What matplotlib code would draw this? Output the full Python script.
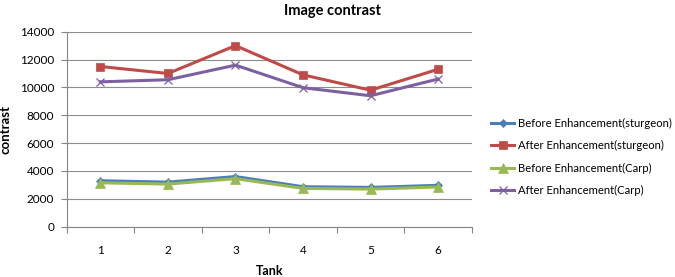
import matplotlib
import numpy as np

matplotlib.use("Agg")
import matplotlib.pyplot as plt  # noqa: E402

plt.rcParams["font.family"] = ["Lato", "DejaVu Sans"]

tanks = ["1", "2", "3", "4", "5", "6"]
before_sturgeon = [3300, 3200, 3600, 2870, 2820, 2970]
after_sturgeon = [11500, 11000, 13000, 10900, 9800, 11300]
before_carp = [3150, 3060, 3450, 2750, 2700, 2850]
after_carp = [10400, 10550, 11600, 9980, 9400, 10600]
y_ticks = [0, 2000, 4000, 6000, 8000, 10000, 12000, 14000]

series = [
    ("Before Enhancement(sturgeon)", before_sturgeon, "#4a7ebb", "D", 4.5),
    ("After Enhancement(sturgeon)", after_sturgeon, "#be4b48", "s", 6),
    ("Before Enhancement(Carp)", before_carp, "#98b954", "^", 6.5),
    ("After Enhancement(Carp)", after_carp, "#7d60a0", "x", 6),
]

fig = plt.figure(figsize=(6.75, 2.77), dpi=100)
ax = fig.add_axes([0.0988, 0.1816, 0.6002, 0.704])

x = np.arange(len(tanks))
for label, vals, col, mk, ms in series:
    ax.plot(x, vals, color=col, lw=2.2, marker=mk, ms=ms, mew=0.9 if mk == "x" else 0.5,
            mec=col, label=label, zorder=3)

ax.set_xlim(-0.5, len(tanks) - 0.5)
ax.set_ylim(0, 14000)
ax.set_yticks(y_ticks)
ax.set_yticklabels([str(v) for v in y_ticks])
ax.set_xticks(x)
ax.set_xticklabels(tanks)
ax.set_xticks(np.arange(len(tanks) + 1) - 0.5, minor=True)
ax.tick_params(axis="x", which="major", length=0, pad=13, labelsize=8.5)
ax.tick_params(axis="x", which="minor", length=4, color="#868686", width=0.8)
ax.tick_params(axis="y", length=4, color="#868686", width=0.8, pad=5, labelsize=8.5)
ax.grid(axis="y", color="#8c8c8c", lw=0.8, zorder=0)
for s in ("top", "right"):
    ax.spines[s].set_visible(False)
for s in ("left", "bottom"):
    ax.spines[s].set_color("#868686")
    ax.spines[s].set_linewidth(0.8)

ax.set_xlabel("Tank", fontsize=9, fontweight="bold", labelpad=7)
ax.set_ylabel("contrast", fontsize=9.5, fontweight="bold")
ax.yaxis.set_label_coords(-0.135, 0.5)
fig.text(0.493, 0.985, "Image contrast", ha="center", va="top", fontsize=10.5, fontweight="bold")

fig.legend(loc="upper left", bbox_to_anchor=(0.728, 0.574), frameon=False, fontsize=8.1,
           handlelength=2.05, handletextpad=0.27, labelspacing=1.0, borderaxespad=0,
           borderpad=0)

fig.savefig("out.png", dpi=100)
